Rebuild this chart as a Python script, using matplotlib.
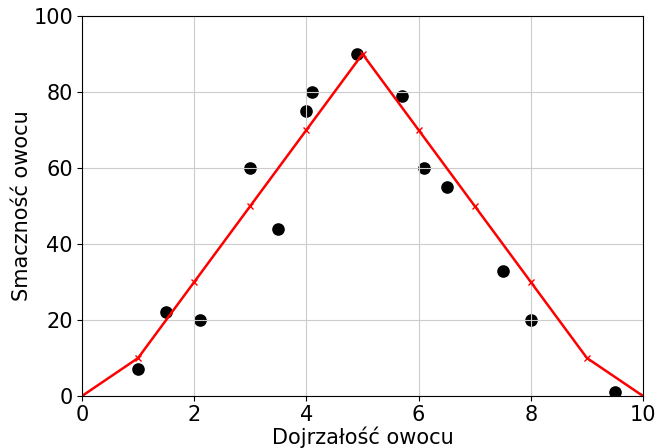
import matplotlib
matplotlib.use("Agg")
import matplotlib.pyplot as plt

points_x = [1.0, 1.5, 2.1, 3.0, 3.5, 4.0, 4.1, 4.9, 5.7, 6.1, 6.5, 7.5, 8.0, 9.5]
points_y = [7, 22, 20, 60, 44, 75, 80, 90, 79, 60, 55, 33, 20, 1]

line_x = [0, 1, 2, 3, 4, 5, 6, 7, 8, 9, 10]
line_y = [0, 10, 30, 50, 70, 90, 70, 50, 30, 10, 0]

xlabel = "Dojrzałość owocu"
ylabel = "Smaczność owocu"

plt.rcParams['font.family'] = ['DejaVu Sans']

fig = plt.figure(figsize=(6.57, 4.48), dpi=100)
ax = fig.add_axes([82/657, 1 - 396/448, (643-82)/657, (396-16)/448])
ax.scatter(points_x, points_y, s=65, color="black")
ax.plot(line_x, line_y, color="red", marker="x", markersize=5, linewidth=1.8)
ax.set_xlim(0, 10)
ax.set_ylim(0, 100)
ax.grid(True, color="#cccccc")
ax.set_xlabel(xlabel, fontsize=15, labelpad=1)
ax.set_ylabel(ylabel, fontsize=15, labelpad=1)
ax.tick_params(labelsize=15, pad=3)
fig.savefig("out.png", dpi=100)
